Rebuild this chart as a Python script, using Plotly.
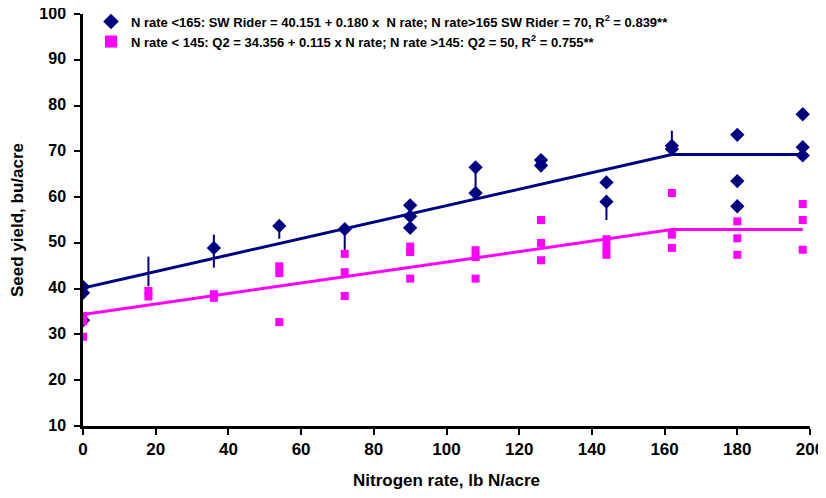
import plotly.graph_objects as go

# ---- data ----
rider_x = [0, 0, 0, 36, 54, 72, 90, 90, 90, 108, 108, 126, 126, 144, 144, 162, 162, 180, 180, 180, 198, 198, 198]
rider_y = [40.4, 39.1, 33.1, 48.9, 53.7, 53.0, 58.2, 55.8, 53.3, 66.5, 60.9, 68.1, 66.9, 63.2, 59.0, 71.2, 70.5, 73.6, 63.5, 58.0, 78.1, 70.9, 69.1]

q2_x = [0, 0, 0, 18, 18, 36, 36, 54, 54, 54, 72, 72, 72, 90, 90, 90, 108, 108, 108,
        126, 126, 126, 144, 144, 144, 162, 162, 162, 180, 180, 180, 198, 198, 198]
q2_y = [34.0, 32.9, 29.5, 39.5, 38.3, 38.8, 38.0, 44.9, 43.4, 32.7, 47.6, 43.6, 38.4, 49.2, 48.0, 42.2, 48.4, 46.9, 42.2,
        55.0, 50.0, 46.2, 50.8, 49.1, 47.4, 60.9, 51.8, 48.9, 54.7, 51.0, 47.4, 58.5, 55.0, 48.5]

# vertical bars attached to SW Rider points
bar_x = [18, 36, 54, 72, 108, 144, 162]
bar_lo = [40.5, 44.6, 50.9, 48.4, 60.9, 55.0, 70.5]
bar_hi = [47.0, 51.8, 53.7, 53.0, 66.5, 59.0, 74.5]

# fitted linear-plateau lines
fit_x = [0, 162, 198]
rider_fit = [40.15, 69.3, 69.3]
q2_fit = [34.36, 52.9, 52.9]

x_ticks = [0, 20, 40, 60, 80, 100, 120, 140, 160, 180, 200]
y_ticks = [10, 20, 30, 40, 50, 60, 70, 80, 90, 100]

rider_label = "N rate <165: SW Rider = 40.151 + 0.180 x  N rate; N rate>165 SW Rider = 70, R<sup>2</sup> = 0.839**"
q2_label = "N rate < 145: Q2 = 34.356 + 0.115 x N rate; N rate >145: Q2 = 50, R<sup>2</sup> = 0.755**"

NAVY = "#000080"
MAGENTA = "#FF00FF"
FONT = "Liberation Sans, Arial, sans-serif"

seg_x, seg_y = [], []
for xv, lo, hi in zip(bar_x, bar_lo, bar_hi):
    seg_x += [xv, xv, None]
    seg_y += [lo, hi, None]

fig = go.Figure()
fig.add_trace(go.Scatter(x=seg_x, y=seg_y, mode="lines", line=dict(color=NAVY, width=2),
                         showlegend=False, hoverinfo="skip"))
fig.add_trace(go.Scatter(x=rider_x, y=rider_y, mode="markers", name=rider_label,
                         marker=dict(symbol="diamond", size=11, color=NAVY)))
fig.add_trace(go.Scatter(x=q2_x, y=q2_y, mode="markers", name=q2_label,
                         marker=dict(symbol="square", size=8, color=MAGENTA)))
fig.add_trace(go.Scatter(x=fit_x, y=rider_fit, mode="lines", line=dict(color=NAVY, width=3),
                         showlegend=False))
fig.add_trace(go.Scatter(x=fit_x, y=q2_fit, mode="lines", line=dict(color=MAGENTA, width=3),
                         showlegend=False))

# page body adds an 8px offset, so the figure is sized/margined to compensate
fig.update_layout(
    width=818, height=482,
    margin=dict(l=75, r=16, t=6, b=64, autoexpand=False),
    paper_bgcolor="white", plot_bgcolor="white",
    font=dict(family=FONT, color="black"),
    legend=dict(x=0.011, y=1.018, xanchor="left", yanchor="top",
                bgcolor="rgba(0,0,0,0)", font=dict(size=13, family=FONT, weight="bold"),
                tracegroupgap=0, itemsizing="constant"),
    xaxis=dict(range=[0, 200], tickvals=x_ticks, ticks="outside", ticklen=6, tickwidth=2,
               tickcolor="black", showline=True, linecolor="black", linewidth=2.5,
               showgrid=False, zeroline=False, automargin=False, ticklabeloverflow="allow",
               tickfont=dict(size=17, family=FONT, weight="bold"),
               title=dict(text="Nitrogen rate, lb N/acre", standoff=16,
                          font=dict(size=17, family=FONT, weight="bold"))),
    yaxis=dict(range=[10, 100], tickvals=y_ticks, ticks="outside", ticklen=6, tickwidth=2,
               tickcolor="black", showline=True, linecolor="black", linewidth=2.5,
               showgrid=False, zeroline=False, automargin=False, ticklabelstandoff=5,
               ticklabeloverflow="allow", ticklabelshift=-1,
               tickfont=dict(size=16, family=FONT, weight="bold"),
               title=dict(text="Seed yield, bu/acre", standoff=18,
                          font=dict(size=17, family=FONT, weight="bold"))),
)

fig.write_html("out.html")
